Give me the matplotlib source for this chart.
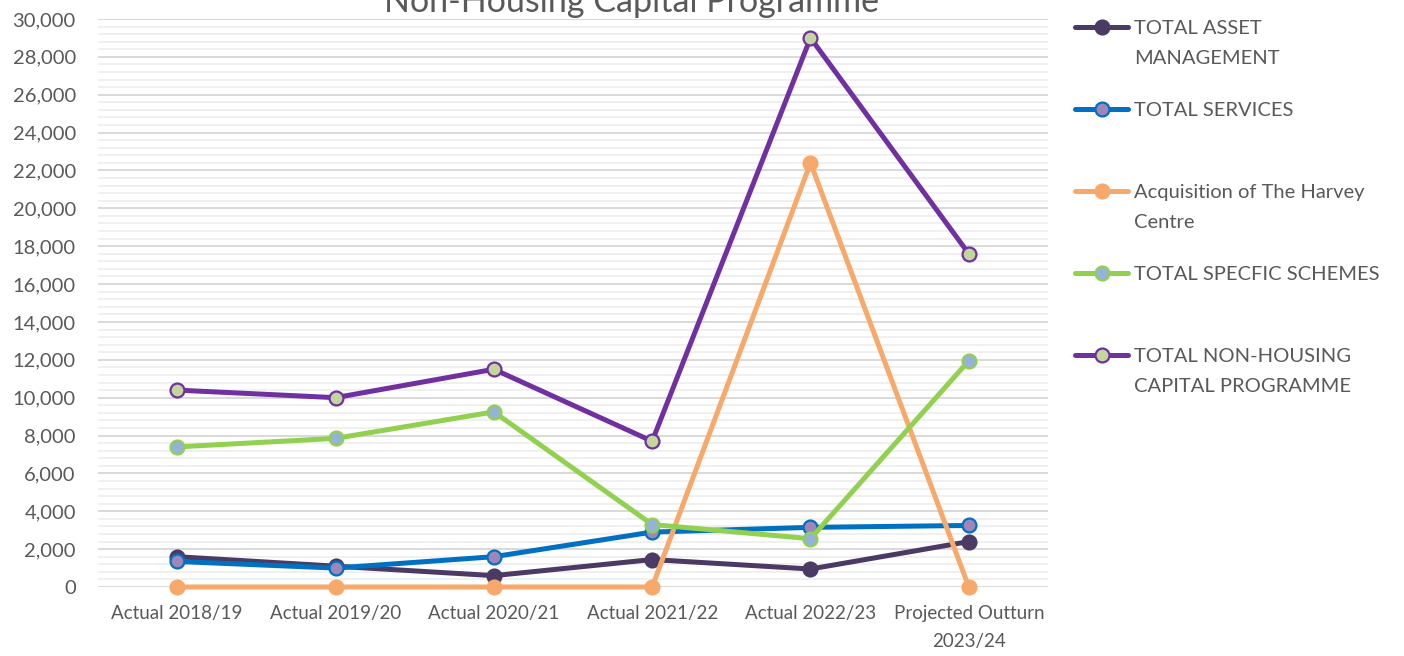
import matplotlib
matplotlib.use("Agg")
import matplotlib.pyplot as plt
from matplotlib.lines import Line2D
from matplotlib.ticker import MultipleLocator, FuncFormatter

plt.rcParams['font.family'] = ['Lato', 'DejaVu Sans']

# data (£000s)
years = ["Actual 2018/19", "Actual 2019/20", "Actual 2020/21", "Actual 2021/22",
         "Actual 2022/23", "Projected Outturn\n2023/24"]
asset_mgmt = [1600, 1100, 600, 1450, 950, 2400]
services = [1350, 1000, 1600, 2900, 3150, 3250]
harvey = [0, 0, 0, 0, 22400, 0]
specific = [7400, 7850, 9250, 3300, 2550, 11950]
total = [10400, 10000, 11500, 7700, 29000, 17600]

series_names = ["TOTAL ASSET\nMANAGEMENT", "TOTAL SERVICES",
                "Acquisition of The Harvey\nCentre", "TOTAL SPECFIC SCHEMES",
                "TOTAL NON-HOUSING\nCAPITAL PROGRAMME"]
series_vals = [asset_mgmt, services, harvey, specific, total]
line_cols = ["#4B3A63", "#0070C0", "#F6A96B", "#92D050", "#7030A0"]
face_cols = ["#4B3A63", "#9E86B8", "#F6A96B", "#95B3D7", "#C3D69B"]

fig = plt.figure(figsize=(14.04, 6.56), dpi=100)
ax = fig.add_axes([98 / 1404, 69 / 656, 950 / 1404, 568 / 656])

x = list(range(len(years)))
for vals, lc, fc in zip(series_vals, line_cols, face_cols):
    ax.plot(x, vals, color=lc, lw=3.6, marker='o', ms=10, mfc=fc, mec=lc,
            mew=1.6, zorder=3, solid_capstyle='round', clip_on=False)

ax.set_xlim(-0.5, 5.5)
ax.set_ylim(0, 30000)
ax.yaxis.set_major_locator(MultipleLocator(2000))
ax.yaxis.set_minor_locator(MultipleLocator(400))
ax.yaxis.set_major_formatter(FuncFormatter(lambda v, p: f"{int(v):,}"))
ax.grid(axis='y', which='major', color='#D9D9D9', lw=1.4, zorder=0)
ax.grid(axis='y', which='minor', color='#F0F0F0', lw=1.4, zorder=0)
ax.set_axisbelow(True)
for s in ax.spines.values():
    s.set_visible(False)
ax.set_xticks(x)
ax.set_xticklabels(years, linespacing=1.75)
ax.tick_params(axis='y', which='both', length=0, labelsize=14.5, labelcolor='#595959', pad=16)
ax.tick_params(axis='x', length=0, labelsize=13.5, labelcolor='#595959', pad=13)

# title sits partly above the figure edge, as in the original
fig.text(632 / 1404, 1 - 12 / 656, "Non-Housing Capital Programme", ha='center',
         va='baseline', fontsize=24.5, color='#595959')

# legend drawn by hand to match the spacing
for i, (name, lc, fc) in enumerate(zip(series_names, line_cols, face_cols)):
    yy = 1 - (27 + 82 * i) / 656
    fig.add_artist(Line2D([1075 / 1404, 1128 / 1404], [yy, yy], color=lc, lw=3.6,
                          solid_capstyle='round', transform=fig.transFigure))
    fig.add_artist(Line2D([1102 / 1404], [yy], marker='o', ms=10, mfc=fc, mec=lc,
                          mew=1.6, transform=fig.transFigure))
    fig.text(1134 / 1404, yy + 7 / 656, name, ha='left', va='top', fontsize=14.5,
             color='#595959', linespacing=1.9)

fig.savefig("out.png", dpi=100)
